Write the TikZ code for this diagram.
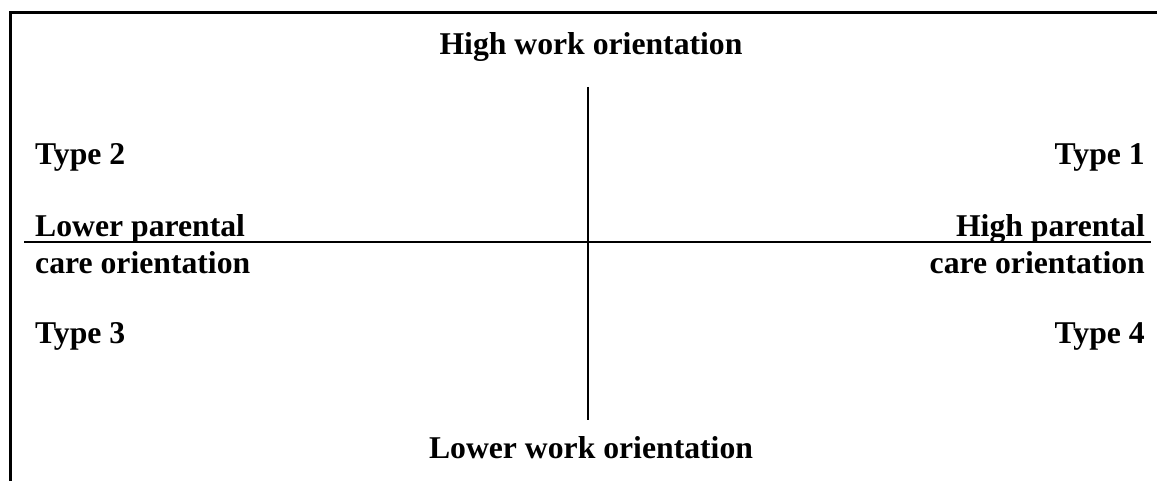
\documentclass[tikz,border=0pt]{standalone}
\usepackage{fontspec}
\setmainfont{Liberation Serif}
\usepackage{tikz}
\usetikzlibrary{positioning}

\begin{document}
\begin{tikzpicture}[
  x=1pt,y=-1pt,
  lab/.style={inner sep=0pt,font=\fontsize{31.7}{34}\selectfont\bfseries},
  frame/.style={line width=3pt,line cap=rect},
  axis/.style={line width=1.7pt}]
  \useasboundingbox (0,0) rectangle (1157,481);
  % open frame
  \draw[frame] (10,481)--(10,13)--(1157,13);

  \node[lab,anchor=base] (hiwork) at (591,55) {High work orientation};
  \node[lab,anchor=base] (lowork) at (591,458) {Lower work orientation};

  \node[lab,anchor=base west] (t2) at (35,165) {Type 2};
  \node[lab,anchor=base east] (t1) at (1145,165) {Type 1};
  \node[lab,anchor=base west] (t3) at (35,343) {Type 3};
  \node[lab,anchor=base east] (t4) at (1145,343) {Type 4};

  \node[lab,anchor=base west] (lopar) at (35,237) {Lower parental};
  \node[lab,anchor=base west] (locare) at (35,273) {care orientation};
  \node[lab,anchor=base east] (hipar) at (1145,237) {High parental};
  \node[lab,anchor=base east] (hicare) at (1145,273) {care orientation};

  % axes
  \coordinate (ytop) at (588,87);
  \coordinate (ybot) at (588,420);
  \coordinate (xl) at (24,242);
  \coordinate (xr) at (1151,242);
  \draw[axis] (ytop)--(ybot);
  \draw[axis] (xl)--(xr);
\end{tikzpicture}
\end{document}
